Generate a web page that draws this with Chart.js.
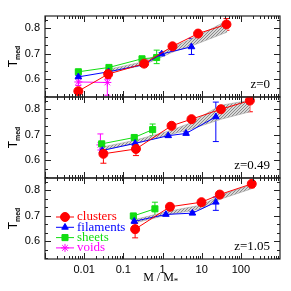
<!doctype html>
<html lang="en">
    <head>
        <meta charset="UTF-8" />
        <title>T_med vs M/M*</title>
        <style>
            html, body { margin: 0; padding: 0; background: #fff; }
            .panels { position: relative; width: 291px; height: 291px; }
            .panels canvas { position: absolute; left: 0; top: 0; }
        </style>
    </head>
    <body>
        <div class="panels">
            <canvas id="p0" width="291" height="291"></canvas>
            <canvas id="p1" width="291" height="291"></canvas>
            <canvas id="p2" width="291" height="291"></canvas>
        </div>

        <script src="https://cdn.jsdelivr.net/npm/chart.js"></script>
        <script>
            // axes
            const xTicks = [0.01, 0.1, 1, 10, 100];
            const xTickLabels = ["0.01", "0.1", "1", "10", "100"];
            const yTicks = [0.6, 0.7, 0.8];
            const yTickLabels = ["0.6", "0.7", "0.8"];
            const seriesNames = ["clusters", "filaments", "sheets", "voids"];
            const redshifts = ["z=0", "z=0.49", "z=1.05"];

            // z = 0
            const z0CluM = [0.0071, 0.041, 0.34, 1.8, 8.1, 43];
            const z0CluT = [0.553, 0.62, 0.661, 0.729, 0.779, 0.815];
            const z0CluLo = [0.546, 0.603, 0.654, 0.723, 0.773, 0.792];
            const z0CluHi = [0.56, 0.635, 0.668, 0.735, 0.785, 0.838];
            const z0FilM = [0.0071, 0.042, 0.33, 0.95, 5.5];
            const z0FilT = [0.609, 0.629, 0.657, 0.699, 0.727];
            const z0FilLo = [0.603, 0.623, 0.651, 0.694, 0.697];
            const z0FilHi = [0.615, 0.635, 0.663, 0.704, 0.76];
            const z0SheM = [0.0071, 0.043, 0.3, 0.71];
            const z0SheT = [0.629, 0.646, 0.68, 0.685];
            const z0SheLo = [0.623, 0.64, 0.674, 0.661];
            const z0SheHi = [0.635, 0.652, 0.686, 0.714];
            const z0VoiM = [0.0071, 0.039];
            const z0VoiT = [0.589, 0.587];
            const z0VoiLo = [0.575, 0.537];
            const z0VoiHi = [0.605, 0.6];
            const z0BandM = [0.04, 0.3, 1.8, 8, 45];
            const z0BandLo = [0.627, 0.653, 0.706, 0.74, 0.785];
            const z0BandHi = [0.638, 0.667, 0.725, 0.77, 0.83];

            // z = 0.49
            const z1CluM = [0.031, 0.21, 1.7, 5.5, 31, 170];
            const z1CluT = [0.625, 0.644, 0.735, 0.761, 0.8, 0.834];
            const z1CluLo = [0.588, 0.618, 0.729, 0.755, 0.793, 0.79];
            const z1CluHi = [0.653, 0.67, 0.741, 0.767, 0.807, 0.847];
            const z1FilM = [0.029, 0.2, 1.4, 4.0, 23];
            const z1FilT = [0.638, 0.666, 0.696, 0.705, 0.77];
            const z1FilLo = [0.632, 0.66, 0.691, 0.699, 0.673];
            const z1FilHi = [0.644, 0.672, 0.701, 0.711, 0.828];
            const z1SheM = [0.028, 0.19, 0.56];
            const z1SheT = [0.664, 0.689, 0.72];
            const z1SheLo = [0.657, 0.682, 0.696];
            const z1SheHi = [0.671, 0.696, 0.742];
            const z1VoiM = [0.026];
            const z1VoiT = [0.66];
            const z1VoiLo = [0.64];
            const z1VoiHi = [0.703];
            const z1BandM = [0.03, 0.2, 1.5, 5, 30, 170];
            const z1BandLo = [0.64, 0.665, 0.7, 0.72, 0.76, 0.79];
            const z1BandHi = [0.652, 0.678, 0.715, 0.745, 0.815, 0.835];

            // z = 1.05
            const z2CluM = [0.2, 1.55, 9.9, 29, 190];
            const z2CluT = [0.647, 0.735, 0.753, 0.783, 0.825];
            const z2CluLo = [0.613, 0.728, 0.747, 0.777, 0.81];
            const z2CluHi = [0.669, 0.742, 0.759, 0.789, 0.835];
            const z2FilM = [0.19, 1.22, 5.8, 23];
            const z2FilT = [0.678, 0.705, 0.71, 0.753];
            const z2FilLo = [0.672, 0.7, 0.704, 0.721];
            const z2FilHi = [0.684, 0.71, 0.716, 0.773];
            const z2SheM = [0.18, 0.64];
            const z2SheT = [0.699, 0.727];
            const z2SheLo = [0.692, 0.701];
            const z2SheHi = [0.706, 0.753];
            const z2BandM = [0.2, 1.5, 10, 30, 190];
            const z2BandLo = [0.672, 0.705, 0.727, 0.765, 0.806];
            const z2BandHi = [0.685, 0.718, 0.742, 0.78, 0.822];

            // styles
            const styles = [
                { color: "#ff0000", pointStyle: "circle", radius: 4.5 },
                { color: "#0000ff", pointStyle: "triangle", radius: 3.8 },
                { color: "#11dd11", pointStyle: "rect", radius: 4.3 },
                { color: "#ff00ff", pointStyle: "star", radius: 4 },
            ];
            const sansFont = "'Liberation Sans', Arial, sans-serif";
            const serifFont = "'Liberation Serif', 'Times New Roman', serif";
            const panelTops = [16, 97, 178];
            const panelBottoms = [97, 178, 259];

            function pts(ms, ts) {
                return ms.map((m, i) => ({ x: m, y: ts[i] }));
            }

            function hatch() {
                const c = document.createElement("canvas");
                c.width = 3;
                c.height = 3;
                const g = c.getContext("2d");
                g.fillStyle = "#d8d8d8";
                g.fillRect(0, 0, 3, 3);
                g.fillStyle = "#8a8a8a";
                g.fillRect(2, 0, 1, 1);
                g.fillRect(1, 1, 1, 1);
                g.fillRect(0, 2, 1, 1);
                return g.createPattern(c, "repeat");
            }

            // plugin: error bars, frame, inward ticks, labels, legend
            const panelDecor = {
                id: "panelDecor",
                beforeDatasetsDraw(chart, args, opts) {
                    const { ctx, scales: { x, y } } = chart;
                    ctx.save();
                    ctx.lineWidth = 1;
                    opts.errors.forEach((e) => {
                        ctx.strokeStyle = e.color;
                        e.m.forEach((m, i) => {
                            const px = x.getPixelForValue(m);
                            const y1 = y.getPixelForValue(e.lo[i]);
                            const y2 = y.getPixelForValue(e.hi[i]);
                            ctx.beginPath();
                            ctx.moveTo(px, y1); ctx.lineTo(px, y2);
                            ctx.moveTo(px - 3, y1); ctx.lineTo(px + 3, y1);
                            ctx.moveTo(px - 3, y2); ctx.lineTo(px + 3, y2);
                            ctx.stroke();
                        });
                    });
                    ctx.restore();
                },
                afterDraw(chart, args, opts) {
                    const { ctx, chartArea: { left, top, right, bottom }, scales: { x, y } } = chart;
                    ctx.save();
                    ctx.strokeStyle = "#222";
                    ctx.lineWidth = 1.2;
                    ctx.strokeRect(left, top, right - left, bottom - top);
                    ctx.lineWidth = 1;
                    ctx.beginPath();
                    for (let k = -3; k <= 2; k++) {
                        for (let m = 1; m <= 9; m++) {
                            const v = m * Math.pow(10, k);
                            const px = Math.round(x.getPixelForValue(v)) + 0.5;
                            const len = m === 1 ? 6 : 3;
                            ctx.moveTo(px, bottom); ctx.lineTo(px, bottom - len);
                            ctx.moveTo(px, top); ctx.lineTo(px, top + len);
                        }
                    }
                    for (let i = 16; i <= 25; i++) {
                        const py = Math.round(y.getPixelForValue(i / 30)) + 0.5;
                        if (py < top || py > bottom) continue;
                        const len = i % 3 === 0 ? 6 : 3;
                        ctx.moveTo(left, py); ctx.lineTo(left + len, py);
                        ctx.moveTo(right, py); ctx.lineTo(right - len, py);
                    }
                    ctx.stroke();

                    // redshift label
                    ctx.fillStyle = "#000";
                    ctx.font = "13px " + serifFont;
                    ctx.textAlign = "right";
                    ctx.textBaseline = "middle";
                    ctx.fillText(opts.label, right - 10, bottom - 12);

                    // y title T_med
                    ctx.translate(15, (top + bottom) / 2);
                    ctx.rotate(-Math.PI / 2);
                    ctx.font = "12px " + sansFont;
                    const wT = ctx.measureText("T").width;
                    ctx.font = "bold 7px " + sansFont;
                    const wS = ctx.measureText("med").width;
                    ctx.textAlign = "left";
                    ctx.font = "12px " + sansFont;
                    ctx.fillText("T", -(wT + wS) / 2, -1);
                    ctx.font = "bold 7px " + sansFont;
                    ctx.fillText("med", -(wT + wS) / 2 + wT, 3);
                    ctx.setTransform(1, 0, 0, 1, 0, 0);

                    if (opts.legend) {
                        seriesNames.forEach((name, k) => {
                            const st = styles[k];
                            const ly = top + 39 + k * 10.3;
                            ctx.strokeStyle = st.color;
                            ctx.fillStyle = st.color;
                            ctx.lineWidth = 1;
                            ctx.beginPath();
                            ctx.moveTo(left + 11, ly); ctx.lineTo(left + 29, ly);
                            ctx.stroke();
                            Chart.helpers.drawPoint(ctx, { pointStyle: st.pointStyle, radius: st.radius, rotation: 0, borderWidth: 1 }, left + 20, ly);
                            ctx.fillStyle = st.color;
                            ctx.font = "13px " + serifFont;
                            ctx.textAlign = "left";
                            ctx.textBaseline = "middle";
                            ctx.fillText(name, left + 32, ly);
                        });
                    }
                    if (opts.xTitle) {
                        ctx.fillStyle = "#000";
                        ctx.font = "12px " + serifFont;
                        ctx.textAlign = "left";
                        ctx.textBaseline = "middle";
                        const main = "M / M";
                        const w = ctx.measureText(main).width;
                        const x0 = 161 - (w + 5) / 2;
                        ctx.fillText(main, x0, 278);
                        ctx.font = "9px " + serifFont;
                        ctx.fillText("*", x0 + w, 282);
                    }
                    ctx.restore();
                },
            };

            function makePanel(id, idx, series, band, showX, legend) {
                const datasets = [];
                const errors = [];
                series.forEach((s, k) => {
                    if (!s) return;
                    const st = styles[k];
                    datasets.push({
                        label: seriesNames[k],
                        data: pts(s[0], s[1]),
                        borderColor: st.color,
                        backgroundColor: st.color,
                        pointBorderColor: st.color,
                        pointBackgroundColor: st.color,
                        borderWidth: 1,
                        pointStyle: st.pointStyle,
                        pointRadius: st.radius,
                        pointBorderWidth: 1,
                        tension: 0,
                        fill: false,
                    });
                    errors.push({ color: st.color, m: s[0], lo: s[2], hi: s[3] });
                });
                datasets.push({
                    label: "band lower",
                    data: pts(band[0], band[1]),
                    borderColor: "#a0a0a0",
                    borderWidth: 0.6,
                    pointRadius: 0,
                    fill: false,
                });
                datasets.push({
                    label: "band upper",
                    data: pts(band[0], band[2]),
                    borderColor: "#a0a0a0",
                    borderWidth: 0.6,
                    pointRadius: 0,
                    backgroundColor: hatch(),
                    fill: "-1",
                });

                const config = {
                    type: "line",
                    data: { datasets: datasets },
                    options: {
                        responsive: false,
                        animation: false,
                        devicePixelRatio: 1,
                        layout: {
                            padding: {
                                left: 0,
                                right: 11,
                                top: panelTops[idx],
                                bottom: showX ? 0 : 291 - panelBottoms[idx],
                            },
                        },
                        scales: {
                            x: {
                                type: "logarithmic",
                                min: 0.001,
                                max: 1000,
                                display: showX,
                                grid: { display: false, drawTicks: false },
                                border: { display: false },
                                afterFit(s) { s.height = showX ? 291 - panelBottoms[idx] : 0; },
                                afterBuildTicks(s) { s.ticks = xTicks.map((v) => ({ value: v })); },
                                ticks: {
                                    autoSkip: false,
                                    maxRotation: 0,
                                    padding: 4,
                                    color: "#000",
                                    font: { family: sansFont, size: 11 },
                                    callback: (v) => {
                                        const i = xTicks.indexOf(v);
                                        return i >= 0 ? xTickLabels[i] : "";
                                    },
                                },
                            },
                            y: {
                                min: 0.53,
                                max: 0.848,
                                grid: { display: false, drawTicks: false },
                                border: { display: false },
                                afterFit(s) { s.width = 45; },
                                afterBuildTicks(s) { s.ticks = yTicks.map((v) => ({ value: v })); },
                                ticks: {
                                    padding: 5,
                                    color: "#000",
                                    font: { family: sansFont, size: 11 },
                                    callback: (v) => {
                                        const i = yTicks.findIndex((t) => Math.abs(t - v) < 1e-6);
                                        return i >= 0 ? yTickLabels[i] : "";
                                    },
                                },
                            },
                        },
                        plugins: {
                            legend: { display: false },
                            tooltip: { enabled: false },
                            panelDecor: { errors: errors, label: redshifts[idx], legend: legend, xTitle: showX },
                        },
                    },
                    plugins: [panelDecor],
                };
                new Chart(document.getElementById(id).getContext("2d"), config);
            }

            makePanel("p0", 0, [
                [z0CluM, z0CluT, z0CluLo, z0CluHi],
                [z0FilM, z0FilT, z0FilLo, z0FilHi],
                [z0SheM, z0SheT, z0SheLo, z0SheHi],
                [z0VoiM, z0VoiT, z0VoiLo, z0VoiHi],
            ], [z0BandM, z0BandLo, z0BandHi], false, false);

            makePanel("p1", 1, [
                [z1CluM, z1CluT, z1CluLo, z1CluHi],
                [z1FilM, z1FilT, z1FilLo, z1FilHi],
                [z1SheM, z1SheT, z1SheLo, z1SheHi],
                [z1VoiM, z1VoiT, z1VoiLo, z1VoiHi],
            ], [z1BandM, z1BandLo, z1BandHi], false, false);

            makePanel("p2", 2, [
                [z2CluM, z2CluT, z2CluLo, z2CluHi],
                [z2FilM, z2FilT, z2FilLo, z2FilHi],
                [z2SheM, z2SheT, z2SheLo, z2SheHi],
                null,
            ], [z2BandM, z2BandLo, z2BandHi], true, true);
        </script>
    </body>
</html>
